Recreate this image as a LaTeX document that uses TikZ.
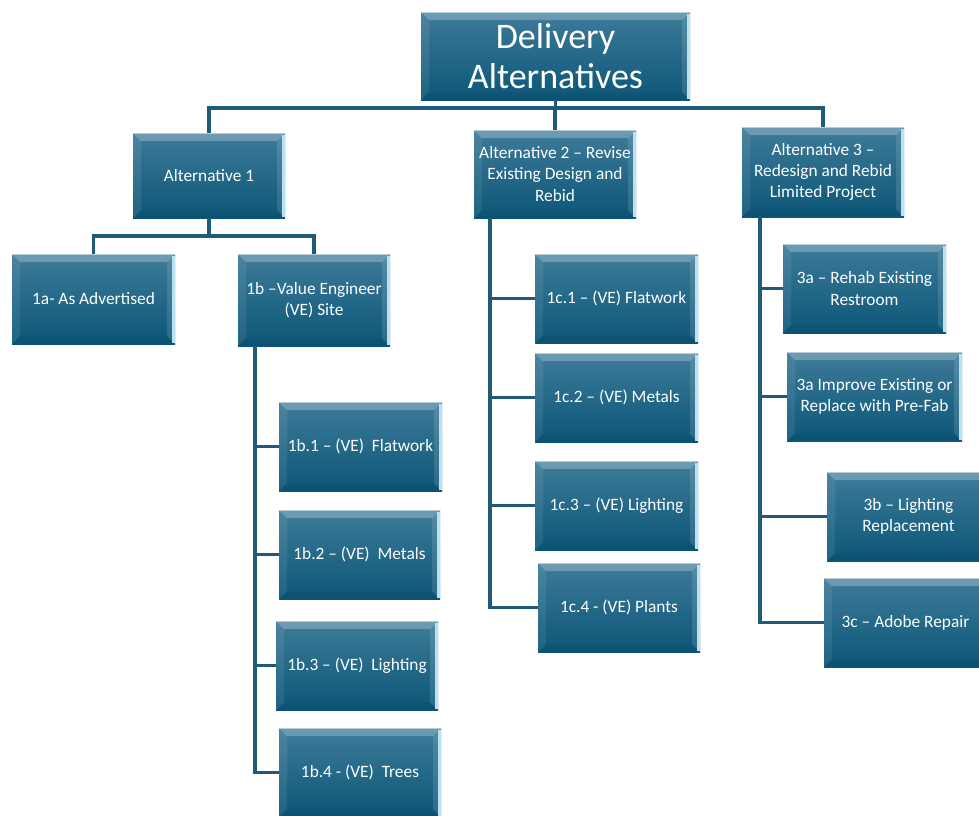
\documentclass[tikz,border=0pt]{standalone}
\usepackage{fontspec}
\setmainfont{Carlito}
\definecolor{bxtop}{HTML}{3E7B99}
\definecolor{bxmid}{HTML}{135E7F}
\definecolor{bxbot}{HTML}{0C5677}
\definecolor{lnc}{HTML}{1F5B79}
\definecolor{edgec}{HTML}{B8E2F2}
\begin{document}
\begin{tikzpicture}[x=0.75pt,y=-0.75pt,
  bx/.style 2 args={rectangle, minimum width=#1*0.75pt, minimum height=#2*0.75pt,
    inner sep=0pt, text=white, align=center,
    font=\fontsize{13}{16}\selectfont,
    top color=bxtop, middle color=bxmid, bottom color=bxbot,
    path picture={
      \coordinate (nw) at (path picture bounding box.north west);
      \coordinate (ne) at (path picture bounding box.north east);
      \coordinate (sw) at (path picture bounding box.south west);
      \coordinate (se) at (path picture bounding box.south east);
      \fill[white,opacity=.25] (nw) -- (ne) -- ([shift={(-8,8)}]ne) -- ([shift={(8,8)}]nw) -- cycle;
      \fill[white,opacity=.08] (nw) -- ([shift={(8,8)}]nw) -- ([shift={(8,-8)}]sw) -- (sw) -- cycle;
      \fill[black,opacity=.04] (sw) -- (se) -- ([shift={(-8,-8)}]se) -- ([shift={(8,-8)}]sw) -- cycle;
      \fill[white,opacity=.12] (ne) -- (se) -- ([shift={(-8,-8)}]se) -- ([shift={(-8,8)}]ne) -- cycle;
      \fill[edgec] ([shift={(-3,2)}]ne) rectangle ([shift={(0,-1)}]se);
      \draw[white,opacity=.5,line width=0.8pt] (nw) -- (ne);
    }},
  conn/.style={draw=lnc, line width=2.6pt}]
\path[use as bounding box] (0,0) rectangle (979,815);
\clip (0,0) rectangle (979,815);

\node[bx={269}{88}, font=\fontsize{27}{30}\selectfont] (top) at (555.5,56) {Delivery\\Alternatives};

\node[bx={152}{85}] (alt1) at (209,175.5) {Alternative 1};
\node[bx={162}{88}] (alt2) at (555,174) {Alternative 2 – Revise\\Existing Design and\\Rebid};
\node[bx={162}{90}] (alt3) at (823,172) {Alternative 3 –\\Redesign and Rebid\\Limited Project};

\node[bx={163}{90}] (a1a) at (93.5,299) {1a- As Advertised};
\node[bx={152}{92}] (a1b) at (314,300) {1b –Value Engineer\\(VE) Site};

\node[bx={163}{89}] (b1) at (360.5,446.5) {1b.1 – (VE)\ \ Flatwork};
\node[bx={161}{89}] (b2) at (359.5,554.5) {1b.2 – (VE)\ \ Metals};
\node[bx={162}{89}] (b3) at (357,665.5) {1b.3 – (VE)\ \ Lighting};
\node[bx={162}{89}] (b4) at (360,772.5) {1b.4 - (VE)\ \ Trees};

\node[bx={163}{89}] (c1) at (616.5,298.5) {1c.1 – (VE) Flatwork};
\node[bx={163}{89}] (c2) at (616.5,397.5) {1c.2 – (VE) Metals};
\node[bx={163}{89}] (c3) at (616.5,505.5) {1c.3 – (VE) Lighting};
\node[bx={162}{89}] (c4) at (619,607.5) {1c.4 - (VE) Plants};

\node[bx={163}{89}] (d1) at (864.5,288.5) {3a – Rehab Existing\\Restroom};
\node[bx={175}{89}] (d2) at (874.5,396.5) {3a Improve Existing or\\Replace with Pre-Fab};
\node[bx={163}{89}] (d3) at (908.5,516.5) {3b – Lighting\\Replacement};
\node[bx={163}{89}] (d4) at (905.5,622.5) {3c – Adobe Repair};

% connectors
\coordinate (bus0) at (555.5,108);
\draw[conn] (top.south) -- (bus0);
\draw[conn] (bus0) -| (alt1.north);
\draw[conn] (bus0) -| (alt2.north);
\draw[conn] (bus0) -| (alt3.north);

\coordinate (bus1) at (209,236);
\draw[conn] (alt1.south) -- (bus1);
\draw[conn] (bus1) -| (a1a.north);
\draw[conn] (bus1) -| (a1b.north);

\coordinate (v1) at (255,346);
\foreach \n in {b1,b2,b3,b4} \draw[conn] (v1) |- (\n.west);

\coordinate (v2) at (490,218);
\foreach \n in {c1,c2,c3,c4} \draw[conn] (v2) |- (\n.west);

\coordinate (v3) at (760,217);
\foreach \n in {d1,d2,d3,d4} \draw[conn] (v3) |- (\n.west);
\end{tikzpicture}
\end{document}
